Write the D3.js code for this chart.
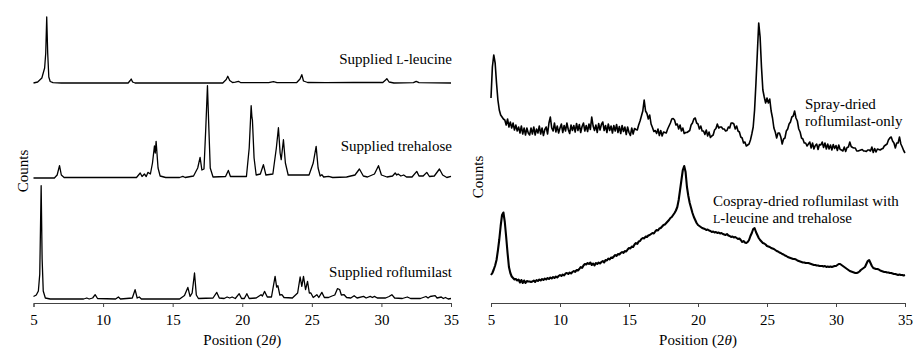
<!DOCTYPE html>
<html>
<head>
<meta charset="utf-8">
<script src="https://cdn.jsdelivr.net/npm/d3@7/dist/d3.min.js"></script>
<style>
  body { margin: 0; background: #fff; }
  svg { font-family: "Liberation Serif", "Times New Roman", Times, serif; }
  .trace { fill: none; stroke: #000; stroke-linejoin: round; }
  .axis path, .axis line { stroke: #444; }
  .axis text { font-size: 15px; font-family: "Liberation Serif", "Times New Roman", Times, serif; fill: #000; }
  .lbl { font-size: 15px; fill: #000; }
</style>
</head>
<body>
<div id="chart"></div>
<script>
// x axis (2 theta)
var xTicks = [5, 10, 15, 20, 25, 30, 35];

// left panel: supplied materials, [2theta, counts above own baseline]
var leucine = [[5.0,0],[5.3,10],[5.6,50],[5.8,150],[5.88,300],[5.95,660],[6.02,300],[6.1,60],[6.2,15],[6.4,3],[7,0],
  [11.8,0],[11.95,25],[12.02,40],[12.12,10],[12.3,0],[18.6,0],[18.85,35],[18.96,67],[19.1,25],[19.3,5],[19.5,8],
  [19.73,17],[19.9,3],[21.9,3],[22.24,13],[22.5,3],[23.9,3],[24.15,40],[24.28,83],[24.4,20],[24.7,5],[26,3],[28,5],
  [30.1,5],[30.3,30],[30.39,43],[30.55,10],[30.9,0],[32.3,3],[32.5,17],[32.7,3],[35,0]];

var trehalose = [[5.0,0],[6.5,0],[6.7,30],[6.87,123],[7.0,30],[7.2,5],[12.4,5],[12.67,50],[12.8,15],[12.97,40],
  [13.1,15],[13.22,56],[13.4,40],[13.55,150],[13.69,320],[13.75,250],[13.81,366],[13.95,100],[14.1,20],[14.5,5],
  [15.5,5],[15.73,16],[15.9,5],[16.5,20],[16.8,100],[16.97,206],[17.1,80],[17.25,90],[17.38,500],[17.5,923],
  [17.6,500],[17.7,100],[17.9,10],[18.8,15],[19.0,76],[19.15,15],[20.3,15],[20.5,300],[20.64,723],[20.7,600],
  [20.73,583],[20.85,200],[21.0,30],[21.3,40],[21.52,133],[21.7,30],[22.2,40],[22.45,300],[22.6,503],[22.72,250],
  [22.8,183],[22.96,383],[23.1,150],[23.3,30],[24.8,30],[25.1,150],[25.31,316],[25.45,100],[25.6,20],[25.72,33],
  [25.85,10],[26.2,16],[26.5,5],[27.5,10],[28.1,30],[28.42,90],[28.7,20],[29.0,10],[29.5,40],[29.79,123],[30.0,30],
  [30.4,10],[30.8,20],[30.99,50],[31.1,30],[31.2,40],[31.4,20],[31.6,30],[31.8,10],[32.2,10],[32.54,66],[32.7,20],
  [33.0,20],[33.26,56],[33.45,15],[33.8,20],[34.17,90],[34.4,30],[34.7,5],[35.0,16]];

var roflumilast = [[5.0,25],[5.2,40],[5.35,80],[5.45,250],[5.55,1133],[5.62,400],[5.7,80],[5.85,10],[6.2,0],[8.6,0],
  [8.83,10],[9.0,0],[9.25,10],[9.43,43],[9.6,5],[10.9,0],[11.1,20],[11.25,0],[12.1,10],[12.3,93],[12.45,10],[12.6,20],
  [12.75,0],[15.5,0],[15.85,36],[16.09,116],[16.25,26],[16.4,60],[16.57,260],[16.7,40],[16.85,5],[17.9,10],[18.17,66],
  [18.35,10],[18.7,5],[18.91,20],[19.1,10],[19.27,20],[19.5,5],[19.78,53],[19.95,5],[20.15,5],[20.33,53],[20.5,5],
  [21.0,10],[21.35,43],[21.45,30],[21.6,76],[21.8,20],[22.1,20],[22.36,226],[22.47,120],[22.56,133],[22.7,40],
  [22.85,43],[23.0,15],[23.6,10],[23.98,60],[24.16,220],[24.28,126],[24.4,226],[24.55,93],[24.69,176],[24.82,60],
  [24.93,60],[25.1,15],[25.36,43],[25.5,15],[25.72,66],[25.9,15],[26.2,15],[26.45,30],[26.65,40],[26.84,103],
  [27.0,95],[27.12,40],[27.32,43],[27.5,15],[27.8,10],[28.04,33],[28.25,10],[28.72,26],[28.9,10],[29.2,26],[29.35,15],
  [29.5,26],[29.7,10],[30.3,10],[30.55,25],[30.75,43],[30.95,10],[31.5,5],[31.86,20],[32.1,5],[32.8,5],[33.2,25],
  [33.35,10],[33.5,25],[33.86,33],[34.0,10],[34.3,20],[34.45,5],[34.6,15],[34.8,0],[35.0,5]];

var leftOffsets = [2200, 1250, 40];   // leucine, trehalose, roflumilast

// right panel: counts every 0.1 deg from 5.0 to 35.0
var scanStart = 5.0, scanStep = 0.1;

var sprayDried = [
  600, 910, 1030, 950, 750, 580, 480, 430, 410, 390,
  380, 330, 390, 310, 360, 300, 350, 280, 330, 270,
  310, 250, 320, 240, 300, 230, 300, 250, 230, 300,
  240, 310, 230, 290, 250, 320, 240, 300, 225, 285,
  310, 240, 350, 410, 300, 270, 350, 260, 320, 250,
  300, 340, 255, 325, 270, 350, 285, 245, 330, 275,
  325, 260, 345, 275, 335, 255, 315, 350, 270, 325,
  265, 340, 285, 410, 320, 275, 330, 255, 345, 280,
  335, 360, 275, 325, 255, 340, 275, 320, 250, 325,
  270, 335, 255, 315, 245, 325, 265, 310, 235, 310,
  255, 225, 300, 240, 295, 285, 280, 330, 370, 420,
  470, 580, 470, 445, 390, 430, 340, 305, 265, 275,
  245, 290, 225, 275, 220, 260, 255, 250, 290, 320,
  350, 390, 395, 380, 330, 340, 290, 330, 270, 300,
  245, 255, 255, 265, 275, 330, 350, 390, 400, 350,
  340, 290, 320, 270, 270, 235, 280, 220, 260, 205,
  220, 230, 280, 295, 340, 300, 310, 310, 290, 290,
  270, 275, 310, 300, 350, 350, 340, 290, 320, 270,
  260, 210, 200, 150, 160, 120, 130, 140, 180, 240,
  310, 480, 750, 1050, 1350, 1210, 910, 680, 610, 550,
  600, 550, 590, 470, 400, 300, 260, 200, 250, 250,
  210, 140, 190, 200, 270, 290, 340, 360, 410, 420,
  470, 400, 370, 290, 260, 200, 190, 150, 150, 120,
  140, 160, 100, 150, 90, 125, 140, 85, 135, 130,
  160, 105, 150, 90, 140, 90, 130, 80, 135, 95,
  125, 75, 130, 85, 80, 70, 110, 65, 105, 110,
  160, 115, 105, 100, 100, 70, 70, 75, 80, 85,
  70, 70, 65, 80, 80, 70, 110, 55, 95, 60,
  90, 85, 80, 90, 95, 120, 130, 140, 180, 200,
  210, 170, 150, 100, 150, 150, 210, 140, 110, 75,
  50];

var cosprayDried = [
  280, 300, 335, 375, 430, 525, 635, 770, 880, 905,
  810, 660, 500, 360, 300, 265, 250, 235, 240, 225,
  235, 205, 230, 200, 225, 200, 220, 215, 215, 210,
  215, 225, 210, 230, 220, 235, 225, 240, 230, 245,
  235, 250, 240, 255, 245, 260, 250, 265, 255, 270,
  280, 270, 285, 275, 295, 300, 290, 305, 295, 310,
  320, 310, 330, 325, 340, 360, 350, 375, 390, 385,
  400, 390, 405, 380, 395, 375, 400, 390, 405, 395,
  410, 420, 405, 430, 425, 445, 435, 455, 450, 465,
  480, 470, 490, 485, 500, 510, 500, 520, 515, 535,
  550, 545, 565, 560, 585, 600, 590, 615, 620, 640,
  650, 645, 665, 660, 675, 680, 690, 700, 695, 715,
  730, 725, 745, 750, 765, 780, 785, 800, 815, 830,
  850, 860, 880, 900, 925, 960, 1030, 1130, 1230, 1330,
  1370, 1310, 1160, 1070, 1000, 950, 900, 860, 830, 800,
  780, 770, 760, 750, 745, 740, 730, 735, 725, 720,
  710, 715, 705, 710, 700, 705, 695, 700, 690, 685,
  680, 690, 675, 670, 660, 665, 655, 660, 650, 640,
  645, 630, 610, 620, 605, 600, 610, 630, 670, 700,
  740, 750, 710, 680, 650, 630, 615, 600, 595, 585,
  570, 565, 560, 550, 545, 540, 530, 520, 515, 505,
  500, 490, 485, 475, 470, 460, 455, 450, 445, 440,
  440, 435, 425, 420, 415, 410, 405, 405, 400, 400,
  400, 395, 390, 385, 380, 380, 375, 375, 370, 370,
  370, 365, 370, 360, 365, 360, 365, 360, 365, 370,
  370, 380, 390, 390, 380, 370, 360, 350, 340, 330,
  320, 315, 310, 305, 300, 300, 305, 315, 330, 340,
  350, 360, 390, 420, 430, 400, 370, 350, 345, 340,
  340, 335, 325, 320, 315, 310, 310, 305, 305, 300,
  300, 295, 290, 290, 285, 280, 285, 280, 280, 275,
  280];

var rightOffsets = [1450, 0];   // spray-dried, cospray-dried

var W = 913, H = 351;

var svg = d3.select("#chart").append("svg")
  .attr("width", W)
  .attr("height", H);

svg.append("rect").attr("width", W).attr("height", H).attr("fill", "#fff");

var y = d3.scaleLinear().domain([0, 2900]).range([303, 13]);

function toPairs(vals) {
  return vals.map(function(v, i) { return [scanStart + i * scanStep, v]; });
}

function drawPanel(x0, x1, traces, offsets, widths) {
  var x = d3.scaleLinear().domain([5, 35]).range([x0, x1]);
  var g = svg.append("g");

  traces.forEach(function(t, i) {
    var line = d3.line()
      .x(function(d) { return x(d[0]); })
      .y(function(d) { return y(d[1] + offsets[i]); });
    g.append("path")
      .datum(t)
      .attr("class", "trace")
      .attr("stroke-width", widths[i])
      .attr("d", line);
  });

  g.append("g")
    .attr("class", "axis")
    .attr("transform", "translate(0,303)")
    .call(d3.axisBottom(x).tickValues(xTicks).tickSize(4).tickSizeOuter(4).tickPadding(7));

  // axis title
  var t = g.append("text")
    .attr("class", "lbl")
    .attr("x", (x0 + x1) / 2)
    .attr("y", 345)
    .attr("text-anchor", "middle");
  t.append("tspan").text("Position (2");
  t.append("tspan").attr("font-style", "italic").text("\u03b8");
  t.append("tspan").text(")");

  return x;
}

drawPanel(33.5, 451, [leucine, trehalose, roflumilast], leftOffsets, [1.3, 1.3, 1.3]);
drawPanel(491, 905, [toPairs(sprayDried), toPairs(cosprayDried)], rightOffsets, [1.6, 2.1]);

// y labels
svg.append("text").attr("class", "lbl")
  .attr("transform", "translate(28,171) rotate(-90)")
  .attr("text-anchor", "middle").text("Counts");
svg.append("text").attr("class", "lbl")
  .attr("transform", "translate(483,177) rotate(-90)")
  .attr("text-anchor", "middle").text("Counts");

// trace labels
function smallCapsL(sel) {
  sel.append("tspan").attr("font-size", "12px").text("L");
}

var l1 = svg.append("text").attr("class", "lbl").attr("x", 452).attr("y", 64).attr("text-anchor", "end");
l1.append("tspan").text("Supplied ");
smallCapsL(l1);
l1.append("tspan").text("-leucine");

svg.append("text").attr("class", "lbl").attr("x", 452).attr("y", 151)
  .attr("text-anchor", "end").text("Supplied trehalose");

svg.append("text").attr("class", "lbl").attr("x", 452).attr("y", 277)
  .attr("text-anchor", "end").text("Supplied roflumilast");

svg.append("text").attr("class", "lbl").attr("x", 805).attr("y", 109).text("Spray-dried");
svg.append("text").attr("class", "lbl").attr("x", 805).attr("y", 126).text("roflumilast-only");

svg.append("text").attr("class", "lbl").attr("x", 713).attr("y", 206).text("Cospray-dried roflumilast with");
var l2 = svg.append("text").attr("class", "lbl").attr("x", 713).attr("y", 223);
smallCapsL(l2);
l2.append("tspan").text("-leucine and trehalose");
</script>
</body>
</html>
